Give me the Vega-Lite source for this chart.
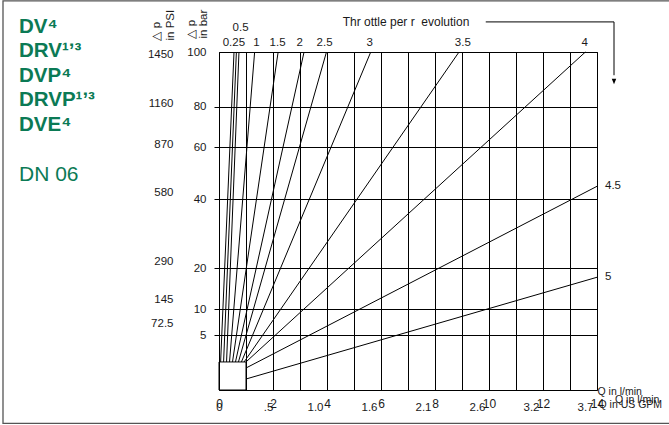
{
  "$schema": "https://vega.github.io/schema/vega-lite/v6.json",
  "width": 378,
  "height": 338,
  "autosize": {"type": "none"},
  "padding": {"left": 219, "top": 52, "right": 72, "bottom": 35},
  "background": "white",
  "title": {
    "text": ["DV⁴", "DRV¹ʼ³", "DVP⁴", "DRVP¹ʼ³", "DVE⁴"],
    "subtitle": "DN 06",
    "orient": "top",
    "anchor": "start",
    "frame": "group",
    "align": "left",
    "baseline": "top",
    "offset": 0,
    "dx": -200,
    "dy": 185,
    "font": "Liberation Sans",
    "fontSize": 20.5,
    "fontWeight": "bold",
    "color": "#0b7a55",
    "lineHeight": 24.5,
    "subtitleFont": "Liberation Sans",
    "subtitleFontSize": 21,
    "subtitleFontWeight": "normal",
    "subtitleColor": "#0b7a55",
    "subtitlePadding": 29
  },
  "config": {
    "view": {"stroke": "black", "strokeWidth": 1},
    "font": "Liberation Sans",
    "axis": {
      "labelFont": "Liberation Sans",
      "labelFontSize": 11.5,
      "labelColor": "#1a1a1a",
      "titleFont": "Liberation Sans",
      "titleFontSize": 11.5,
      "titleFontWeight": "normal",
      "titleColor": "#1a1a1a",
      "domain": false,
      "labelOverlap": false,
      "labelFlush": false
    }
  },
  "datasets": {
    "lines": [
      {"rev": "0.25", "q": 0.06, "p": 2.55}, {"rev": "0.25", "q": 0.556, "p": 100},
      {"rev": "0.5", "q": 0.17, "p": 2.55}, {"rev": "0.5", "q": 0.644, "p": 100},
      {"rev": "0.75", "q": 0.28, "p": 2.55}, {"rev": "0.75", "q": 0.74, "p": 100},
      {"rev": "1", "q": 0.39, "p": 2.55}, {"rev": "1", "q": 1.32, "p": 100},
      {"rev": "1.5", "q": 0.5, "p": 2.55}, {"rev": "1.5", "q": 2.19, "p": 100},
      {"rev": "2", "q": 0.61, "p": 2.55}, {"rev": "2", "q": 3.15, "p": 100},
      {"rev": "2.5", "q": 0.72, "p": 2.55}, {"rev": "2.5", "q": 3.98, "p": 100},
      {"rev": "3", "q": 0.83, "p": 2.55}, {"rev": "3", "q": 5.62, "p": 100},
      {"rev": "3.5", "q": 0.93, "p": 2.55}, {"rev": "3.5", "q": 8.89, "p": 100},
      {"rev": "4", "q": 1.0, "p": 2.55}, {"rev": "4", "q": 13.57, "p": 100},
      {"rev": "4.5", "q": 1.0, "p": 2.0}, {"rev": "4.5", "q": 14, "p": 45},
      {"rev": "5", "q": 1.0, "p": 1.0}, {"rev": "5", "q": 14, "p": 17.8}
    ],
    "toplabels": [
      {"t": "0.25", "q": 0.55, "p": 100, "row": 1},
      {"t": "0.5", "q": 0.8, "p": 100, "row": 2},
      {"t": "1", "q": 1.385, "p": 100, "row": 1},
      {"t": "1.5", "q": 2.17, "p": 100, "row": 1},
      {"t": "2", "q": 2.99, "p": 100, "row": 1},
      {"t": "2.5", "q": 3.91, "p": 100, "row": 1},
      {"t": "3", "q": 5.58, "p": 100, "row": 1},
      {"t": "3.5", "q": 9.03, "p": 100, "row": 1},
      {"t": "4", "q": 13.54, "p": 100, "row": 1}
    ],
    "sidelabels": [
      {"t": "4.5", "q": 14, "p": 45},
      {"t": "5", "q": 14, "p": 17.8}
    ],
    "box": [{"q0": 0, "q1": 1, "p0": 0, "p1": 2.55}],
    "arrow": [
      {"i": 1, "q": 9.88, "p": 111},
      {"i": 2, "q": 14.63, "p": 111},
      {"i": 3, "q": 14.63, "p": 91.5}
    ],
    "arrowhead": [{"q": 14.63, "p": 89.2}],
    "caption": [{"t": "Thr ottle per r\u00a0 evolution", "q": 4.58, "p": 111}],
    "ghost": [{"t": "Q in l/min", "q": 14, "p": 0}]
  },
  "layer": [
    {
      "data": {"name": "lines"},
      "mark": {"type": "line", "color": "black", "strokeWidth": 1},
      "encoding": {
        "x": {
          "field": "q", "type": "quantitative",
          "scale": {"domain": [0, 14], "nice": false, "zero": false},
          "axis": {
            "orient": "bottom",
            "values": [0, 1, 2, 3, 4, 5, 6, 7, 8, 9, 10, 11, 12, 13, 14],
            "grid": true, "gridColor": "black", "gridOpacity": 1, "gridWidth": 1,
            "ticks": false,
            "labelExpr": "datum.value % 2 == 0 ? datum.label : ''",
            "labelPadding": 8,
            "labelFontSize": 12,
            "title": "Q in l/min",
            "titleFontSize": 10.5,
            "titleX": 378, "titleY": 1,
            "titleAlign": "left", "titleBaseline": "middle"
          }
        },
        "y": {
          "field": "p", "type": "quantitative",
          "scale": {"domain": [0, 5, 10, 20, 40, 60, 80, 100], "range": [338, 283, 257, 216.3, 147.3, 95.3, 54.7, 0], "nice": false, "zero": false},
          "axis": {
            "orient": "left",
            "values": [5, 10, 20, 40, 60, 80, 100],
            "grid": true, "gridColor": "black", "gridOpacity": 1, "gridWidth": 1,
            "ticks": true, "tickSize": 5, "tickColor": "black",
            "tickOpacity": {"condition": {"test": "datum.value == 100", "value": 0}, "value": 1},
            "labelPadding": 8,
            "title": ["△ p", "in bar"],
            "titleAngle": 270, "titleAlign": "left", "titleBaseline": "top",
            "titleX": -34, "titleY": -14, "titleLineHeight": 12.5
          }
        },
        "detail": {"field": "rev"}
      }
    },
    {
      "data": {"name": "box"},
      "mark": {"type": "rect", "fill": "transparent", "stroke": "black", "strokeWidth": 1},
      "encoding": {
        "x": {
          "field": "q0", "type": "quantitative",
          "axis": {
            "orient": "bottom",
            "values": [0, 2, 4, 6, 8, 10, 12, 14],
            "grid": false, "ticks": false,
            "labelExpr": "datum.value==0?'0':datum.value==2?'.5':datum.value==4?'1.0':datum.value==6?'1.6':datum.value==8?'2.1':datum.value==10?'2.6':datum.value==12?'3.2':'3.7'",
            "labelOffset": {"condition": [{"test": "datum.value==0", "value": 0}, {"test": "datum.value==2", "value": -5}], "value": -12},
            "labelPadding": 11,
            "title": "Q in US GPM",
            "titleFontSize": 10.5,
            "titleX": 379, "titleY": 14,
            "titleAlign": "left", "titleBaseline": "middle"
          }
        },
        "x2": {"field": "q1"},
        "y": {
          "field": "p0", "type": "quantitative",
          "axis": {
            "orient": "left",
            "values": [5, 10, 20, 40, 60, 80, 100],
            "grid": false, "ticks": false,
            "labelPadding": 46,
            "labelExpr": "'' + datum.value * 14.5",
            "labelOffset": {"condition": [{"test": "datum.value==100", "value": 2}, {"test": "datum.value>=60", "value": -3}, {"test": "datum.value>=20", "value": -7}, {"test": "datum.value==10", "value": -10}], "value": -12},
            "title": ["△ p", "in PSI"],
            "titleAngle": 270, "titleAlign": "left", "titleBaseline": "top",
            "titleX": -69, "titleY": -12, "titleLineHeight": 14
          }
        },
        "y2": {"field": "p1"}
      }
    },
    {
      "data": {"name": "toplabels"},
      "transform": [{"filter": "datum.row == 1"}],
      "mark": {"type": "text", "dy": -9, "fontSize": 11.5, "baseline": "middle", "align": "center", "color": "#1a1a1a"},
      "encoding": {
        "x": {"field": "q", "type": "quantitative", "axis": null},
        "y": {"field": "p", "type": "quantitative", "axis": null},
        "text": {"field": "t"}
      }
    },
    {
      "data": {"name": "toplabels"},
      "transform": [{"filter": "datum.row == 2"}],
      "mark": {"type": "text", "dy": -24, "fontSize": 11.5, "baseline": "middle", "align": "center", "color": "#1a1a1a"},
      "encoding": {
        "x": {"field": "q", "type": "quantitative", "axis": null},
        "y": {"field": "p", "type": "quantitative", "axis": null},
        "text": {"field": "t"}
      }
    },
    {
      "data": {"name": "sidelabels"},
      "mark": {"type": "text", "dx": 8, "fontSize": 11.5, "baseline": "middle", "align": "left", "color": "#1a1a1a"},
      "encoding": {
        "x": {"field": "q", "type": "quantitative", "axis": null},
        "y": {"field": "p", "type": "quantitative", "axis": null},
        "text": {"field": "t"}
      }
    },
    {
      "data": {"name": "arrow"},
      "mark": {"type": "line", "color": "black", "strokeWidth": 1},
      "encoding": {
        "x": {"field": "q", "type": "quantitative", "axis": null},
        "y": {"field": "p", "type": "quantitative", "axis": null},
        "order": {"field": "i"}
      }
    },
    {
      "data": {"name": "arrowhead"},
      "mark": {"type": "point", "shape": "M-0.45,-0.55L0.45,-0.55L0,0.55Z", "size": 100, "filled": true, "color": "black", "opacity": 1},
      "encoding": {
        "x": {"field": "q", "type": "quantitative", "axis": null},
        "y": {"field": "p", "type": "quantitative", "axis": null}
      }
    },
    {
      "data": {"name": "caption"},
      "mark": {"type": "text", "fontSize": 12, "baseline": "middle", "align": "left", "color": "#1a1a1a"},
      "encoding": {
        "x": {"field": "q", "type": "quantitative", "axis": null},
        "y": {"field": "p", "type": "quantitative", "axis": null},
        "text": {"field": "t"}
      }
    },
    {
      "data": {"name": "ghost"},
      "mark": {"type": "text", "dx": 18, "dy": 10, "fontSize": 10.5, "baseline": "middle", "align": "left", "color": "#1a1a1a"},
      "encoding": {
        "x": {"field": "q", "type": "quantitative", "axis": null},
        "y": {"field": "p", "type": "quantitative", "axis": null},
        "text": {"field": "t"}
      }
    },
    {
      "data": {"values": [{}]},
      "mark": {"type": "rect", "fill": "transparent", "stroke": "#555555", "strokeWidth": 1.3},
      "encoding": {
        "x": {"datum": -8.0, "type": "quantitative", "axis": null},
        "x2": {"datum": 20},
        "y": {"datum": 118.7, "type": "quantitative", "axis": null},
        "y2": {"datum": -3.03}
      }
    }
  ],
  "resolve": {"axis": {"x": "independent", "y": "independent"}}
}
